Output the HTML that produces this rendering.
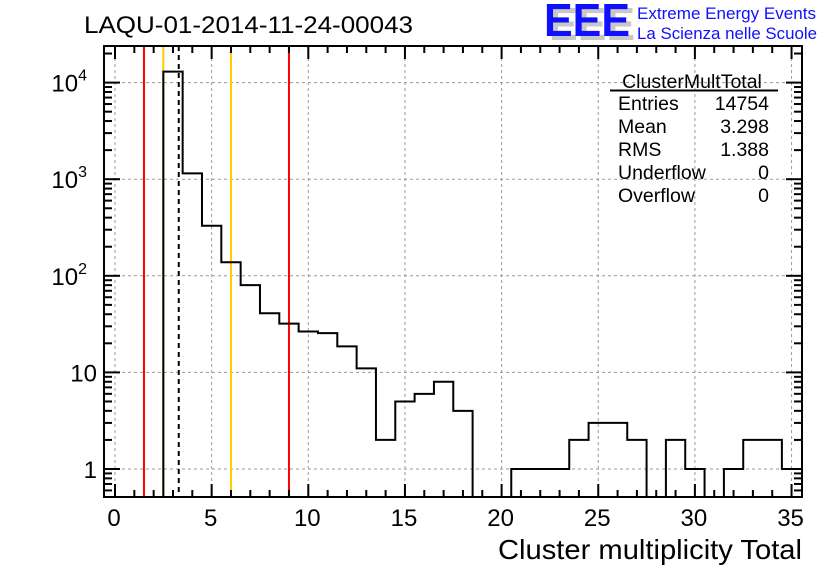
<!DOCTYPE html>
<html><head><meta charset="utf-8"><style>
body{margin:0;background:#fff;}
svg{display:block;font-family:"Liberation Sans",sans-serif;}
</style></head><body>
<svg id="c" width="836" height="572">
<g>
<text x="549" y="40" font-size="46" font-weight="bold" fill="#c8c8c8" textLength="86" lengthAdjust="spacingAndGlyphs">EEE</text>
<text x="544" y="36" font-size="46" font-weight="bold" fill="#1010ff" textLength="86" lengthAdjust="spacingAndGlyphs">EEE</text>
<text x="637" y="19" font-size="16.5" fill="#1010ff" textLength="179" lengthAdjust="spacingAndGlyphs">Extreme Energy Events</text>
<text x="637" y="39" font-size="16.5" fill="#1010ff" textLength="180" lengthAdjust="spacingAndGlyphs">La Scienza nelle Scuole</text>
</g>
<text x="84" y="33" font-size="24" textLength="329" lengthAdjust="spacingAndGlyphs">LAQU-01-2014-11-24-00043</text>
<g id="grid"></g>
<g id="marks"></g>
<g id="axes"></g>
<g font-size="19.5">
<text x="692" y="88" text-anchor="middle">ClusterMultTotal</text>
<line x1="610" y1="90.5" x2="778" y2="90.5" stroke="#000" stroke-width="2"/>
<text x="618" y="110">Entries</text><text x="769" y="110" text-anchor="end">14754</text>
<text x="618" y="133">Mean</text><text x="769" y="133" text-anchor="end">3.298</text>
<text x="618" y="156">RMS</text><text x="769" y="156" text-anchor="end">1.388</text>
<text x="618" y="179">Underflow</text><text x="769" y="179" text-anchor="end">0</text>
<text x="618" y="202">Overflow</text><text x="769" y="202" text-anchor="end">0</text>
</g>
<text x="498" y="559" font-size="28" textLength="304" lengthAdjust="spacingAndGlyphs">Cluster multiplicity Total</text>
</svg>
<script>
const binCenters=[0,1,2,3,4,5,6,7,8,9,10,11,12,13,14,15,16,17,18,19,20,21,22,23,24,25,26,27,28,29,30,31,32,33,34,35];
const counts=[0,0,0,13000,1150,330,138,80,41,32,26.5,25.5,18.6,11,2,5,6,8,4,0,0,1,1,1,2,3,3,2,0,2,1,0,1,2,2,1];
const xTicks=[0,5,10,15,20,25,30,35];
const yTicks=[1,10,100,1000,10000];
const yTickLabels=["1","10","10²","10³","10⁴"];
const refLines=[{x:1.5,c:"#ff0000",d:""},{x:2.5,c:"#ffcc00",d:""},{x:6,c:"#ffcc00",d:""},{x:9,c:"#ff0000",d:""},{x:3.298,c:"#000",d:"5,4"}];
const L=104,R=802,T=46,B=497;
const X=v=>115+v*19.33;
const Y=v=>469-Math.log10(v)*96.6;
const NS="http://www.w3.org/2000/svg";
function mk(p,t,a){const e=document.createElementNS(NS,t);for(const k in a)e.setAttribute(k,a[k]);p.appendChild(e);return e;}
const grid=document.getElementById('grid'),marks=document.getElementById('marks'),axes=document.getElementById('axes');
xTicks.forEach(v=>{const l=mk(grid,'line',{x1:X(v),x2:X(v),y1:T,y2:B,stroke:'#999','stroke-dasharray':'3,3'});
});
yTicks.forEach(v=>{const l=mk(grid,'line',{x1:L,x2:R,y1:Y(v),y2:Y(v),stroke:'#999','stroke-dasharray':'3,3'});
});
refLines.forEach(r=>{const a={x1:X(r.x),x2:X(r.x),y1:T,y2:B,stroke:r.c,'stroke-width':2};if(r.d)a['stroke-dasharray']=r.d;
const l=mk(marks,'line',a);});
let d='',started=false;
binCenters.forEach((c,i)=>{const v=counts[i];const y=v>0?Y(v):B;const x0=X(c-0.5),x1=Math.min(X(c+0.5),R);
if(!started){if(v<=0)return;d+=`M${x0},${B}`;started=true;}
d+=`L${x0},${y}L${x1},${y}`;});
const h=mk(marks,'path',{d:d,fill:'none',stroke:'#000','stroke-width':2});

const f=mk(axes,'rect',{x:L,y:T,width:R-L,height:B-T,fill:'none',stroke:'#000','stroke-width':2});

for(let v=0;v<=35;v++){const len=v%5===0?13:7;
mk(axes,'line',{x1:X(v),x2:X(v),y1:B,y2:B-len,stroke:'#000','stroke-width':2});
mk(axes,'line',{x1:X(v),x2:X(v),y1:T,y2:T+len,stroke:'#000','stroke-width':2});}
xTicks.forEach(v=>{const t=mk(axes,'text',{x:X(v)-1,y:526,'font-size':24,'text-anchor':'middle'});t.textContent=v;
});
for(let e=-1;e<=4;e++)for(let m=1;m<=9;m++){const v=m*Math.pow(10,e);const y=Y(v);if(y>B||y<T)continue;const len=m===1?16:8;
mk(axes,'line',{x1:L,x2:L+len,y1:y,y2:y,stroke:'#000','stroke-width':2});
mk(axes,'line',{x1:R,x2:R-len,y1:y,y2:y,stroke:'#000','stroke-width':2});}
yTicks.forEach((v,i)=>{const t=mk(axes,'text',{x:97,y:Y(v)+9,'font-size':24,'text-anchor':'end'});
const lab=yTickLabels[i];
if(lab.length>2){t.textContent='10';const s=mk(t,'tspan',{dy:-11,'font-size':16});s.textContent=({'²':'2','³':'3','⁴':'4'})[lab[2]];t.setAttribute('x',97-10);}
else t.textContent=lab;
});
</script>
</body></html>
